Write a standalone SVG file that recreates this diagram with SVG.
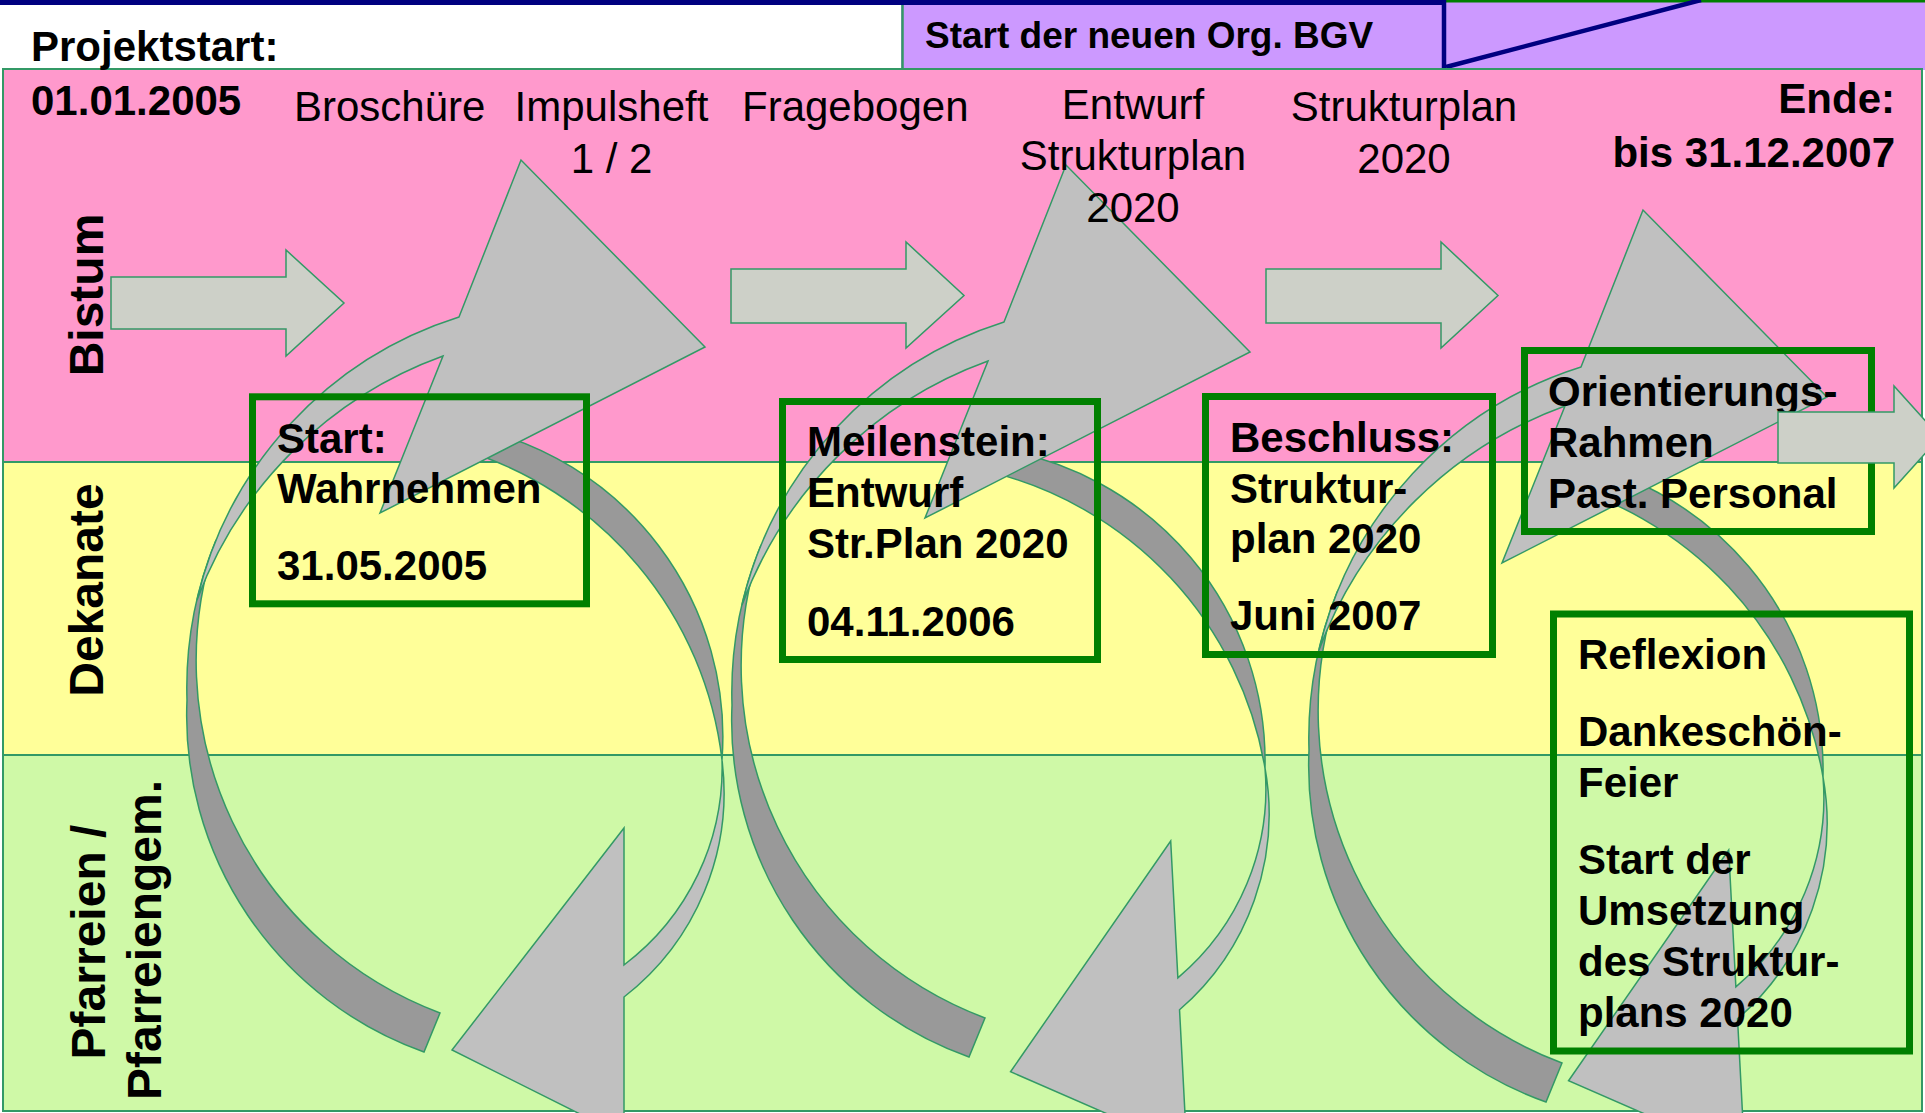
<svg xmlns="http://www.w3.org/2000/svg" width="1925" height="1113" viewBox="0 0 1925 1113">
<style>
  text { font-family: "Liberation Sans", Arial, sans-serif; fill: #000; }
  .hdr { font-size: 42px; }
  .b { font-weight: bold; }
  .box { font-size: 42px; font-weight: bold; }
  .lane { font-size: 48px; font-weight: bold; }
  .mbox { fill: none; stroke: #008000; stroke-width: 7; }
  .blk { fill: #CDD0C8; stroke: #339966; stroke-width: 1.5; }
  .lt { fill: #C0C0C0; stroke: #339966; stroke-width: 1.5; }
  .dk { fill: #999999; stroke: #339966; stroke-width: 1.5; }
  .lanebd { fill: none; stroke: #339966; stroke-width: 2; }
</style>
<defs>
  <g id="upArrow">
    <path class="dk" d="M216,540 A389,389 0 0 0 187,700 A357,357 0 0 0 424,1052 L440,1013 A376.5,376.5 0 0 1 216,540 Z"/>
    <path class="lt" d="M459,317 L521,160 L705,347 L380,513 L443,356 A412,412 0 0 0 197,600 A389,389 0 0 1 459,317 Z"/>
  </g>
  <g id="downArrow">
    <path class="dk" d="M470,427 A316,316 0 0 1 722,760 A369,369 0 0 0 460,449 Z"/>
    <path class="lt" d="M722,760 A259,259 0 0 1 624,997 L624,1136 L452,1050 L624,828 L624,965 A247,247 0 0 0 722,760 Z"/>
  </g>
</defs>

<rect x="0" y="0" width="1925" height="1113" fill="#FFFFFF"/>

<g id="header">
  <rect x="0" y="0" width="1446" height="5" fill="#000080"/>
  <rect x="901" y="5" width="545" height="65" fill="#CC99FF"/>
  <line x1="902.5" y1="5" x2="902.5" y2="70" stroke="#339966" stroke-width="2.5"/>
  <rect x="1446" y="0" width="479" height="70" fill="#CC99FF"/>
  <rect x="1446" y="0" width="479" height="2.5" fill="#008000"/>
  <line x1="1444" y1="0" x2="1444" y2="70" stroke="#000080" stroke-width="4.5"/>
  <line x1="1446" y1="67" x2="1701" y2="0" stroke="#000080" stroke-width="4.5"/>
</g>

<g id="lanes">
  <rect x="3" y="69" width="1919" height="393" fill="#FF99CC"/>
  <rect x="3" y="462" width="1919" height="293" fill="#FFFF99"/>
  <rect x="3" y="755" width="1919" height="356" fill="#CFF9A7"/>
  <line x1="3" y1="462" x2="1922" y2="462" stroke="#339966" stroke-width="2"/>
  <line x1="3" y1="755" x2="1922" y2="755" stroke="#339966" stroke-width="2"/>
  <rect class="lanebd" x="3" y="69" width="1919" height="1042"/>
</g>

<g id="cycles">
  <g id="cycle1">
    <use href="#downArrow"/>
    <use href="#upArrow"/>
  </g>
  <g id="cycle2">
    <use href="#downArrow" transform="translate(543,8) rotate(-3,722,760)"/>
    <use href="#upArrow" transform="translate(545,5)"/>
  </g>
  <g id="cycle3">
    <use href="#downArrow" transform="translate(1101,17) rotate(-3,722,760)"/>
    <use href="#upArrow" transform="translate(1122,50)"/>
  </g>
</g>

<g id="connectors">
  <polygon id="arrow1" class="blk" points="111,277 286,277 286,250 344,303 286,356 286,329 111,329"/>
  <polygon id="arrow2" class="blk" points="731,269 906,269 906,242 964,295.5 906,348 906,323 731,323"/>
  <polygon id="arrow3" class="blk" points="1266,269 1441,269 1441,242 1498,295.5 1441,348 1441,323 1266,323"/>
</g>

<g id="box-start">
  <rect class="mbox" x="252.5" y="396.8" width="334" height="207"/>
  <text class="box" x="277" y="453">Start:</text>
  <text class="box" x="277" y="503">Wahrnehmen</text>
  <text class="box" x="277" y="580">31.05.2005</text>
</g>
<g id="box-meilenstein">
  <rect class="mbox" x="782.5" y="401.5" width="315" height="258"/>
  <text class="box" x="807" y="456">Meilenstein:</text>
  <text class="box" x="807" y="507">Entwurf</text>
  <text class="box" x="807" y="558">Str.Plan 2020</text>
  <text class="box" x="807" y="636">04.11.2006</text>
</g>
<g id="box-beschluss">
  <rect class="mbox" x="1205.5" y="396.5" width="287" height="258"/>
  <text class="box" x="1230" y="452">Beschluss:</text>
  <text class="box" x="1230" y="503">Struktur-</text>
  <text class="box" x="1230" y="553">plan 2020</text>
  <text class="box" x="1230" y="630">Juni 2007</text>
</g>
<g id="box-orientierung">
  <rect class="mbox" x="1524.5" y="350.5" width="347" height="181"/>
  <text class="box" x="1548" y="406">Orientierungs-</text>
  <text class="box" x="1548" y="457">Rahmen</text>
  <text class="box" x="1548" y="508">Past. Personal</text>
</g>
<polygon id="arrow4" class="blk" points="1778,412 1894,412 1894,386 1940,437 1894,488 1894,463 1778,463"/>
<g id="box-reflexion">
  <rect class="mbox" x="1553.5" y="614" width="356" height="437"/>
  <text class="box" x="1578" y="669">Reflexion</text>
  <text class="box" x="1578" y="746">Dankeschön-</text>
  <text class="box" x="1578" y="797">Feier</text>
  <text class="box" x="1578" y="874">Start der</text>
  <text class="box" x="1578" y="925">Umsetzung</text>
  <text class="box" x="1578" y="976">des Struktur-</text>
  <text class="box" x="1578" y="1027">plans 2020</text>
</g>

<g id="labels">
  <text class="b" x="31" y="61" font-size="42">Projektstart:</text>
  <text class="b" x="925" y="48" font-size="37">Start der neuen Org. BGV</text>
  <text class="b" x="31" y="115" font-size="42">01.01.2005</text>
  <text class="hdr" x="294" y="121">Broschüre</text>
  <text class="hdr" x="611.5" y="121" text-anchor="middle">Impulsheft</text>
  <text class="hdr" x="611.5" y="173" text-anchor="middle">1 / 2</text>
  <text class="hdr" x="742" y="121">Fragebogen</text>
  <text class="hdr" x="1133" y="119" text-anchor="middle">Entwurf</text>
  <text class="hdr" x="1133" y="170" text-anchor="middle">Strukturplan</text>
  <text class="hdr" x="1133" y="222" text-anchor="middle">2020</text>
  <text class="hdr" x="1404" y="121" text-anchor="middle">Strukturplan</text>
  <text class="hdr" x="1404" y="173" text-anchor="middle">2020</text>
  <text class="b" x="1895" y="113" font-size="42" text-anchor="end">Ende:</text>
  <text class="b" x="1895" y="167" font-size="42" text-anchor="end">bis 31.12.2007</text>
  <text class="lane" transform="translate(103,295) rotate(-90)" text-anchor="middle">Bistum</text>
  <text class="lane" transform="translate(103,590) rotate(-90)" text-anchor="middle">Dekanate</text>
  <text class="lane" transform="translate(105,942) rotate(-90)" text-anchor="middle">Pfarreien /</text>
  <text class="lane" transform="translate(161,940) rotate(-90)" text-anchor="middle">Pfarreiengem.</text>
</g>
</svg>
